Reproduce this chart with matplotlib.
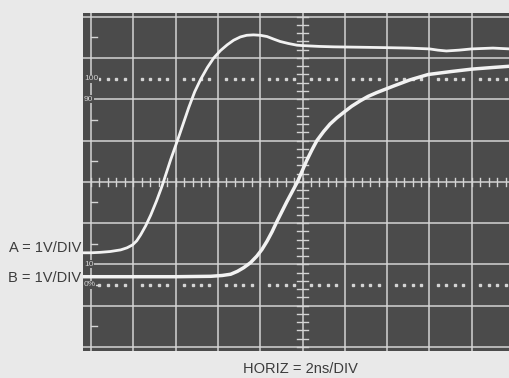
import numpy as np
import matplotlib.pyplot as plt

# Scope trace readings, in graticule divisions (x: 0..10, y: -4..4 around centre)
trace_a_x = [-0.2, 0.0, 0.21, 0.45, 0.70, 0.85, 0.98, 1.08, 1.17, 1.29, 1.41, 1.55, 1.68,
             1.88, 2.08, 2.31, 2.45, 2.59, 2.75, 2.90, 3.06, 3.22, 3.37, 3.53, 3.68, 3.84,
             4.0, 4.16, 4.31, 4.47, 4.67, 4.87, 5.0, 5.4, 5.74, 6.4, 7.0, 7.5, 8.0, 8.2,
             8.4, 8.7, 9.0, 9.5, 9.9]
trace_a_y = [-1.72, -1.72, -1.71, -1.69, -1.65, -1.60, -1.53, -1.43, -1.29, -1.07, -0.81, -0.46, -0.10,
             0.53, 1.11, 1.80, 2.18, 2.48, 2.77, 3.0, 3.18, 3.32, 3.43, 3.51, 3.55, 3.56,
             3.55, 3.52, 3.46, 3.40, 3.35, 3.31, 3.30, 3.28, 3.27, 3.26, 3.25, 3.24, 3.22, 3.19,
             3.17, 3.19, 3.22, 3.24, 3.22]

trace_b_x = [-0.2, 0.0, 1.0, 2.0, 2.83, 3.1, 3.30, 3.46, 3.61, 3.77, 3.92, 4.04, 4.16, 4.28, 4.39,
             4.63, 4.88, 5.10, 5.22, 5.34, 5.50, 5.65, 5.81, 5.97, 6.16, 6.36, 6.55, 6.75,
             7.15, 7.54, 7.97, 8.5, 9.0, 9.5, 9.9]
trace_b_y = [-2.30, -2.30, -2.30, -2.30, -2.29, -2.27, -2.24, -2.17, -2.08, -1.96, -1.80, -1.64, -1.44, -1.21, -0.97,
             -0.48, 0.0, 0.52, 0.77, 1.0, 1.22, 1.40, 1.55, 1.68, 1.83, 1.96, 2.07, 2.16,
             2.32, 2.47, 2.60, 2.67, 2.73, 2.77, 2.80]

percent_levels = [2.5, 2.0, -2.0, -2.5]
percent_labels = ['100', '90', '10', '0%']

label_a = 'A = 1V/DIV'
label_b = 'B = 1V/DIV'
label_h = 'HORIZ = 2ns/DIV'

page = '#e9e9e9'
screen = '#4b4b4b'
grid = '#d4d4d4'
trace = '#f2f2f2'
ink = '#3c3c3c'
fonts = ['Liberation Sans Narrow', 'Liberation Sans', 'DejaVu Sans']

fig = plt.figure(figsize=(5.09, 3.78), dpi=100, facecolor=page)
ax = fig.add_axes([83 / 509, 27 / 378, 426 / 509, 338 / 378])
ax.set_facecolor(screen)
ax.set_xlim(-0.19, 9.88)
ax.set_ylim(-4.10, 4.09)
ax.set_xticks([])
ax.set_yticks([])
for s in ax.spines.values():
    s.set_visible(False)

# graticule
for gx in range(0, 11):
    ax.axvline(gx, color=grid, lw=1.1, zorder=1)
for gy in range(-4, 5):
    ax.axhline(gy, color=grid, lw=1.1, zorder=1)

# minor ticks on the centre lines
minor = np.arange(0, 10.01, 0.2)
for m in minor:
    ax.plot([m, m], [-0.1, 0.1], color=grid, lw=1.0, zorder=1)
minor_y = np.arange(-4, 4.01, 0.2)
for m in minor_y:
    ax.plot([4.88, 5.12], [m, m], color=grid, lw=1.0, zorder=1)
for m in np.arange(-3.5, 4, 1.0):
    ax.plot([0, 0.14], [m, m], color=grid, lw=1.0, zorder=1)

# dotted 0% / 100% lines
dots = [d for d in np.arange(0.2, 10, 0.2) if abs(d - round(d)) > 0.05]
for lvl in (2.5, -2.5):
    ax.plot(dots, [lvl] * len(dots), ls='none', marker='s', ms=1.8,
            color=grid, zorder=1)

for lvl, txt in zip(percent_levels, percent_labels):
    ax.text(-0.17, lvl, txt, color='#cfcfcf', fontsize=6, va='center', ha='left',
            family=fonts, zorder=2,
            bbox=dict(facecolor=screen, edgecolor='none', pad=0.3))

# traces
ax.plot(trace_a_x, trace_a_y, color=trace, lw=2.0, solid_capstyle='round',
        solid_joinstyle='round', zorder=3)
ax.plot(trace_b_x, trace_b_y, color=trace, lw=2.5, solid_capstyle='round',
        solid_joinstyle='round', zorder=3)

fig.text(81 / 509, 1 - 248 / 378, label_a, ha='right', va='center', fontsize=10.5,
         color=ink, family=fonts)
fig.text(81 / 509, 1 - 278 / 378, label_b, ha='right', va='center', fontsize=10.5,
         color=ink, family=fonts)
fig.text(300 / 509, 1 - 369 / 378, label_h, ha='center', va='center', fontsize=10.5,
         color=ink, family=fonts)

fig.savefig('out.png', dpi=100, facecolor=page)
